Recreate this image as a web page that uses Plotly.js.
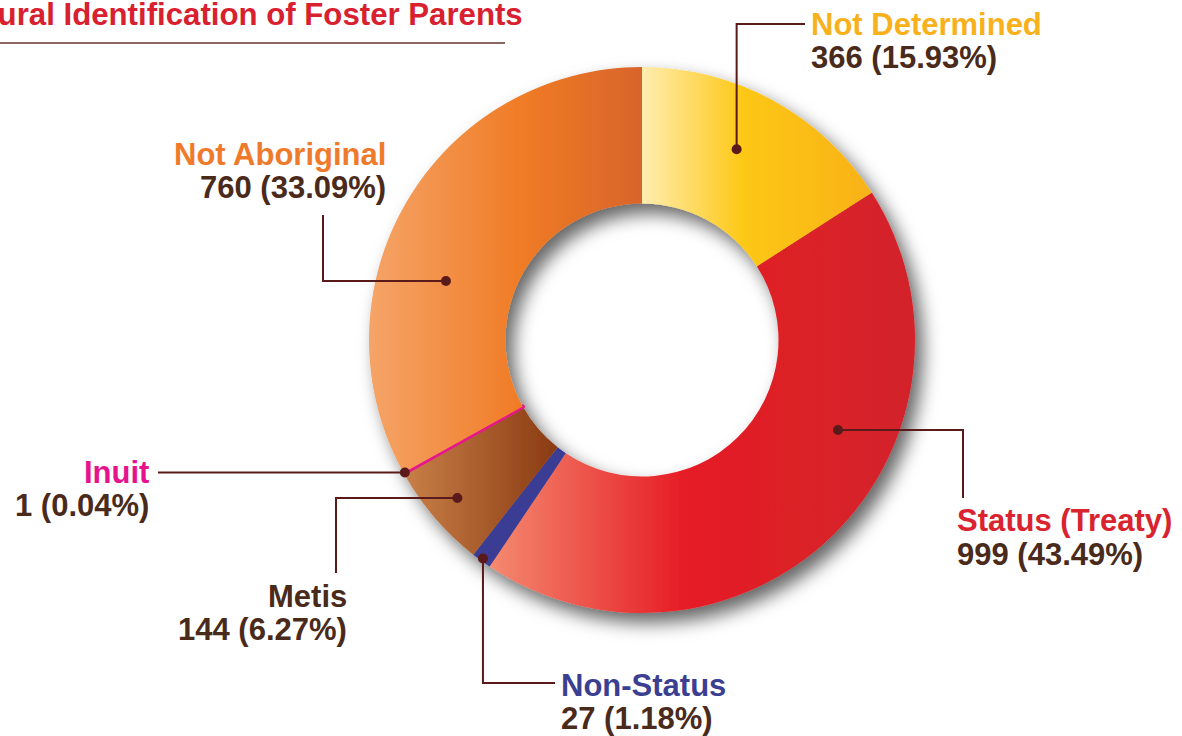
<!DOCTYPE html>
<html><head><meta charset="utf-8">
<script src="https://cdn.plot.ly/plotly-3.0.1.min.js"></script>
<style>html,body{margin:0;padding:0;background:#fff;overflow:hidden}#chart{width:1182px;height:736px}</style>
</head><body><div id="chart"></div>
<script>
// ---- data ----
const categories = ['Not Determined', 'Status (Treaty)', 'Non-Status', 'Metis', 'Inuit', 'Not Aboriginal'];
const counts = [366, 999, 27, 144, 1, 760];
const chartTitle = 'Cultural Identification of Foster Parents';

// ---- styles ----
const sliceColors = ['#FCC21A', '#E1222A', '#3A3D94', '#A0501F', '#E6178B', '#EE7D2E'];
const sliceGradients = [
  [['0%', '#FFEDB0'], ['45%', '#FDC712'], ['100%', '#F8B21A']],
  [['0%', '#F48A70'], ['45%', '#E61E26'], ['100%', '#D2222A']],
  null,
  [['0%', '#C98048'], ['100%', '#8A3A12']],
  null,
  [['0%', '#F5A468'], ['55%', '#F07C26'], ['100%', '#D8642A']]
];
const nameColors = ['#F9B11B', '#D9232E', '#3B3F92', '#4A2A1A', '#E5148C', '#F07A2B'];
const valueColor = '#4A2A1A';
const leaderColor = '#5B1A1A';
const W = 1182, H = 736, CX = 642, CY = 340, R = 273;
const FONT = 'Liberation Sans, Arial, sans-serif';
const FS = 31;
// label layout (pixels): anchor position in slice, route, end of leader, text position
const labelLayout = [
  {frac: 0.46, rad: 0.78, route: 'vh', ex: 805, ey: 24, tx: 810, align: 'left', ny: 24.5, vy: 57.5},
  {frac: 0.366, rad: 0.79, route: 'hv', ex: 963, ey: 498, tx: 956, align: 'left', ny: 520, vy: 554},
  {frac: 0.5, rad: 0.99, route: 'vh', ex: 555, ey: 683, tx: 560, align: 'left', ny: 685.5, vy: 718.5},
  {frac: 0.5, rad: 0.89, route: 'hv', ex: 336, ey: 573, tx: 348, align: 'right', ny: 596.5, vy: 629.5},
  {frac: 0.5, rad: 0.995, route: 'hv', ex: 158, ey: null, tx: 150, align: 'right', ny: 472, vy: 505},
  {frac: 0.385, rad: 0.75, route: 'hv', ex: 323, ey: 215, tx: 387, align: 'right', ny: 154.5, vy: 187.5}
];

const px = x => x / W;
const py = y => 1 - y / H;
const total = counts.reduce((a, b) => a + b, 0);

const shapes = [];
const annotations = [];
let cum = 0;
counts.forEach((v, i) => {
  const L = labelLayout[i];
  const a0 = cum / total * 360, a1 = (cum + v) / total * 360;
  cum += v;
  const th = (a0 + (a1 - a0) * L.frac) * Math.PI / 180;
  const dx = CX + R * L.rad * Math.sin(th);
  const dy = CY - R * L.rad * Math.cos(th);
  let mx, my, ex = L.ex, ey = (L.ey === null ? dy : L.ey);
  if (L.route === 'vh') { mx = dx; my = ey; } else { mx = ex; my = dy; }
  shapes.push({type: 'path', xref: 'paper', yref: 'paper',
    path: `M ${px(dx)},${py(dy)} L ${px(mx)},${py(my)} L ${px(ex)},${py(ey)}`,
    line: {color: leaderColor, width: 2}});
  shapes.push({type: 'circle', xref: 'paper', yref: 'paper', xsizemode: 'pixel', ysizemode: 'pixel',
    xanchor: px(dx), yanchor: py(dy), x0: -5, x1: 5, y0: -5, y1: 5,
    fillcolor: leaderColor, line: {width: 0}});
  const pct = (v / total * 100).toFixed(2);
  annotations.push({xref: 'paper', yref: 'paper', x: px(L.tx), y: py(L.ny), xanchor: L.align, yanchor: 'middle',
    align: L.align, showarrow: false, borderpad: 0, text: '<b>' + categories[i] + '</b>',
    font: {family: FONT, size: FS, color: nameColors[i]}});
  annotations.push({xref: 'paper', yref: 'paper', x: px(L.tx), y: py(L.vy), xanchor: L.align, yanchor: 'middle',
    align: L.align, showarrow: false, borderpad: 0, text: '<b>' + v + ' (' + pct + '%)</b>',
    font: {family: FONT, size: FS, color: valueColor}});
});

annotations.push({xref: 'paper', yref: 'paper', x: px(524), y: py(15), xanchor: 'right', yanchor: 'middle',
  showarrow: false, borderpad: 0, text: '<b>' + chartTitle + '</b>', font: {family: FONT, size: 31.2, color: '#D8202F'}});
shapes.push({type: 'line', xref: 'paper', yref: 'paper', x0: 0, x1: px(505), y0: py(43), y1: py(43),
  line: {color: '#8C6662', width: 2}});

const data = [{
  type: 'pie', labels: categories, values: counts, sort: false, direction: 'clockwise', rotation: 0,
  hole: 0.5, textinfo: 'none', hoverinfo: 'none', showlegend: false,
  marker: {colors: sliceColors, line: {color: sliceColors, width: [0, 0, 0, 0, 4, 0]}},
  domain: {x: [px(CX - R), px(CX + R)], y: [py(CY + R), py(CY - R)]}
}];
const layout = {width: W, height: H, margin: {l: 0, r: 0, t: 0, b: 0},
  paper_bgcolor: '#fff', plot_bgcolor: '#fff', showlegend: false,
  font: {family: FONT}, shapes: shapes, annotations: annotations};

Plotly.newPlot('chart', data, layout, {staticPlot: true}).then(gd => {
  const svg = gd.querySelector('svg.main-svg');
  let defs = svg.querySelector('defs');
  const NS = 'http://www.w3.org/2000/svg';
  sliceGradients.forEach((g, i) => {
    if (!g) return;
    const lg = document.createElementNS(NS, 'linearGradient');
    lg.setAttribute('id', 'sliceGrad' + i);
    lg.setAttribute('x1', '0'); lg.setAttribute('y1', '0'); lg.setAttribute('x2', '1'); lg.setAttribute('y2', '0');
    g.forEach(s => {
      const st = document.createElementNS(NS, 'stop');
      st.setAttribute('offset', s[0]); st.setAttribute('stop-color', s[1]);
      lg.appendChild(st);
    });
    defs.appendChild(lg);
  });
  const f = document.createElementNS(NS, 'filter');
  f.setAttribute('id', 'pieShadow');
  f.setAttribute('x', '-30%'); f.setAttribute('y', '-30%'); f.setAttribute('width', '160%'); f.setAttribute('height', '160%');
  const ds = document.createElementNS(NS, 'feDropShadow');
  ds.setAttribute('dx', '8'); ds.setAttribute('dy', '10'); ds.setAttribute('stdDeviation', '9');
  ds.setAttribute('flood-color', '#000'); ds.setAttribute('flood-opacity', '0.6');
  f.appendChild(ds);
  defs.appendChild(f);
  gd.querySelectorAll('.pielayer .slice path.surface').forEach((p, i) => {
    if (sliceGradients[i]) p.style.fill = 'url(#sliceGrad' + i + ')';
  });
  const pl = gd.querySelector('.pielayer');
  if (pl) pl.setAttribute('filter', 'url(#pieShadow)');
});
</script>
</body></html>
